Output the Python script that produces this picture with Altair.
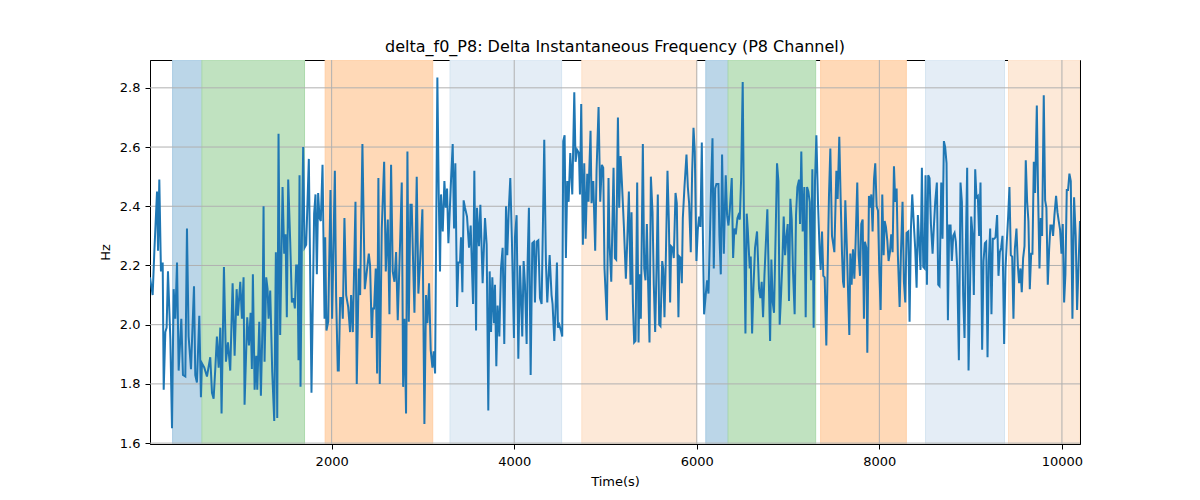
"""delta_f0_P8 trace with the shaded stage bands behind it."""
import pandas as pd
import altair as alt

time_s = [
    10, 39, 58, 87, 98, 112, 130, 149, 160, 178,
    192, 207, 233, 251, 269, 287, 306, 324, 353, 371,
    397, 415, 433, 459, 492, 506, 524, 550, 568, 579,
    605, 634, 670, 689, 707, 725, 743, 762, 780, 794,
    820, 842, 864, 889, 915, 937, 959, 973, 999, 1017,
    1035, 1046, 1075, 1094, 1112, 1126, 1137, 1156, 1174, 1185,
    1207, 1225, 1243, 1254, 1265,
    1283, 1298, 1309, 1327, 1349, 1371, 1389, 1404, 1418, 1436,
    1462, 1480, 1495, 1509, 1524, 1546, 1564, 1582, 1597, 1611,
    1626, 1637, 1648, 1659, 1674, 1688, 1703, 1721, 1750, 1765,
    1779, 1808, 1823, 1838, 1852, 1867, 1881, 1900, 1922, 1929,
    1943, 1962, 1987, 2005, 2035, 2049, 2067, 2078, 2093, 2111,
    2122, 2140, 2159, 2181, 2202, 2213, 2232, 2261, 2275, 2297,
    2312, 2337, 2363, 2385, 2407, 2421, 2440, 2451, 2465, 2483,
    2498, 2512,
    2527, 2549, 2575, 2593, 2615, 2633, 2651, 2669, 2688, 2706,
    2724, 2750, 2768, 2783, 2797, 2815, 2830, 2845, 2863, 2877,
    2892, 2907, 2932, 2950, 2969, 2994, 3016, 3034, 3049, 3067,
    3085, 3104, 3118, 3133, 3158, 3173, 3187, 3198, 3217, 3235,
    3250, 3264, 3279, 3308, 3326, 3341, 3355, 3374, 3388, 3406,
    3417, 3432, 3446, 3461, 3483, 3505, 3523, 3549, 3563, 3582,
    3592, 3614, 3629, 3654, 3680, 3698, 3716, 3731, 3746, 3760,
    3778,
    3789, 3804, 3818, 3837, 3855, 3873, 3891, 3910, 3924, 3939,
    3957, 3975, 3997, 4008, 4026, 4045, 4063, 4074, 4088, 4103,
    4118, 4136, 4147, 4161, 4180, 4198, 4216, 4227, 4245, 4264,
    4282, 4300, 4315, 4329, 4347, 4362, 4388, 4409, 4420, 4439,
    4453, 4468, 4479, 4493, 4512, 4526, 4537, 4552, 4566, 4581,
    4596, 4614, 4636, 4658, 4672, 4690, 4709, 4720, 4734, 4752,
    4767, 4782, 4800, 4814, 4822, 4836, 4847, 4866, 4887, 4902,
    4924, 4942, 4960, 4975, 4989, 5015, 5033,
    5044, 5063, 5088, 5103, 5117, 5136, 5150, 5165, 5179, 5201,
    5223, 5238, 5256, 5274, 5285, 5300, 5314, 5329, 5347, 5362,
    5373, 5387, 5409, 5424, 5438, 5453, 5467, 5482, 5497, 5515,
    5529, 5544, 5559, 5573, 5588, 5602, 5621, 5632, 5646, 5661,
    5679, 5694, 5708, 5719, 5734, 5748, 5767, 5781, 5799, 5810,
    5825, 5836, 5847, 5865, 5887, 5902, 5916, 5934, 5949, 5964,
    5978, 5996, 6011, 6026, 6040, 6055, 6066, 6080, 6099, 6113,
    6128, 6142, 6157, 6172, 6186, 6201, 6215, 6237, 6248, 6263,
    6277, 6296,
    6317, 6332, 6347, 6361, 6383, 6398, 6412, 6427, 6445, 6456,
    6471, 6485, 6503, 6518, 6533, 6547, 6558, 6580, 6591, 6606,
    6620, 6638, 6660, 6682, 6697, 6711, 6726, 6741, 6755, 6773,
    6788, 6803, 6817, 6832, 6846, 6865, 6879, 6894, 6908, 6923,
    6938, 6952, 6967, 6981, 6996, 7010, 7025, 7040, 7054, 7072,
    7087, 7102, 7120, 7131, 7145, 7160, 7178, 7193, 7208, 7222,
    7237, 7251, 7266, 7280, 7295, 7310, 7328, 7346, 7357, 7372,
    7386, 7401, 7419, 7434, 7448, 7463, 7481, 7496, 7507,
    7529, 7543, 7561, 7576, 7591, 7602, 7612, 7627, 7645, 7660,
    7671, 7682, 7696, 7711, 7726, 7740, 7758, 7773, 7788, 7802,
    7817, 7831, 7842, 7857, 7868, 7886, 7897, 7912, 7926, 7941,
    7955, 7970, 7985, 7999, 8014, 8032, 8047, 8058, 8072, 8087,
    8101, 8116, 8130, 8145, 8160, 8174, 8189, 8203, 8222, 8236,
    8254, 8269, 8284, 8298, 8317, 8331, 8346, 8360, 8375, 8393,
    8408, 8422, 8437, 8451, 8466, 8481, 8495, 8506, 8521, 8535,
    8550, 8565, 8583, 8597, 8612, 8630, 8645, 8659, 8678, 8692,
    8707, 8721, 8736, 8751, 8765, 8780, 8794, 8809,
    8824, 8838, 8853, 8871, 8889, 8904, 8918, 8933, 8948, 8962,
    8977, 8991, 9006, 9021, 9035, 9050, 9064, 9079, 9093, 9108,
    9126, 9141, 9156, 9170, 9185, 9199, 9214, 9228, 9243, 9258,
    9272, 9290, 9305, 9320, 9334, 9349, 9367, 9382, 9396, 9411,
    9425, 9440, 9455, 9469, 9484, 9502, 9517, 9531, 9546, 9560,
    9575, 9590, 9604, 9619, 9633, 9648, 9663, 9677, 9692, 9706,
    9725, 9739, 9754, 9768, 9783, 9801, 9816, 9830, 9845, 9860,
    9874, 9889, 9903, 9918, 9936, 9951, 9965, 9980, 9995, 10009,
    10024, 10038, 10053, 10067, 10082, 10097, 10115, 10133, 10151, 10166, 10198,
]

delta_f0 = [
    2.16, 2.10, 2.25, 2.45, 2.25, 2.49, 2.18, 2.21, 1.78, 1.975,
    1.99, 2.18, 1.95, 1.65, 2.12, 2.02, 2.21, 1.845, 2.02, 1.83,
    1.825, 2.325, 1.96, 1.85, 2.13, 1.83, 1.805, 2.03, 1.755, 1.87,
    1.855, 1.825, 1.89, 1.77, 1.75, 1.85, 1.96, 1.855, 1.99, 1.70,
    2.195, 1.875, 1.94, 1.845, 2.14, 1.895, 2.12, 2.03, 2.145, 2.02,
    2.16, 1.73, 2.025, 1.93, 2.04, 1.85, 2.17, 1.78, 1.895, 1.78,
    2.01, 1.76, 2.01, 2.40, 1.875,
    2.16, 2.12, 2.02, 2.115, 1.84, 1.675, 2.245, 1.685, 2.645, 1.965,
    2.465, 2.24, 2.305, 2.025, 2.49, 2.28, 2.075, 2.09, 2.055, 2.20,
    2.20, 1.88, 2.505, 1.79, 2.28, 2.60, 2.26, 2.27, 2.56, 2.17,
    1.77, 2.375, 2.44, 2.17, 2.445, 2.36, 2.35, 2.54, 2.02, 2.295,
    1.98, 2.01, 2.455, 2.02, 2.52, 2.095, 1.845, 1.845, 2.09, 2.09,
    2.02, 2.36, 2.10, 2.06, 1.975, 2.10, 1.975, 2.415, 1.80, 2.19,
    2.10, 2.61, 2.12, 2.18, 2.24, 2.20, 1.955, 2.055, 2.055, 2.19,
    1.835, 2.495,
    1.80, 2.325, 2.55, 2.18, 2.355, 2.035, 2.54, 2.18, 2.145, 2.245,
    2.015, 2.28, 2.48, 1.79, 2.02, 1.70, 2.585, 2.01, 2.405, 2.405,
    2.215, 2.04, 2.50, 2.105, 2.215, 2.39, 1.665, 2.10, 2.005, 2.14,
    1.915, 1.855, 1.91, 1.835, 2.835, 2.44, 2.18, 2.44, 2.315, 2.485,
    2.395, 2.46, 2.275, 2.49, 2.61, 2.325, 2.545, 2.06, 2.21, 2.21,
    2.295, 2.11, 2.42, 2.395, 2.365, 2.26, 2.335, 2.07, 2.52, 1.98,
    2.395, 2.265, 2.405, 2.14, 2.36, 2.27, 1.71, 2.18, 1.975, 2.16,
    2.005,
    2.135, 1.86, 2.065, 1.96, 2.19, 2.26, 1.935, 2.40, 2.235, 2.38,
    2.495, 2.28, 1.955, 2.295, 2.37, 1.885, 2.20, 2.10, 1.96, 2.215,
    2.135, 1.935, 2.215, 2.395, 1.83, 2.275, 2.28, 2.075, 2.28, 2.285,
    2.09, 2.07, 2.35, 2.625, 2.215, 2.075, 2.235, 2.10, 2.07, 1.945,
    2.055, 2.21, 1.99, 2.00, 1.98, 1.96, 2.62, 2.64, 2.225, 2.485,
    2.415, 2.58, 2.44, 2.785, 2.55, 2.59, 2.58, 2.44, 2.745, 2.27,
    2.545, 2.29, 2.51, 2.415, 2.52, 2.655, 2.41, 2.485, 2.25, 2.52,
    2.735, 2.415, 2.54, 2.53, 2.19, 2.015, 2.495,
    2.275, 2.145, 2.53, 2.225, 2.22, 2.70, 2.395, 2.57, 2.485, 2.335,
    2.155, 2.28, 2.45, 2.135, 2.38, 2.075, 1.94, 1.945, 2.48, 1.94,
    2.17, 2.02, 2.61, 2.19, 2.15, 2.34, 2.135, 1.94, 2.50, 2.38,
    2.135, 1.975, 2.19, 2.44, 2.00, 1.995, 2.215, 2.19, 2.025, 2.225,
    2.52, 2.35, 2.075, 2.265, 2.26, 2.225, 2.445, 2.41, 2.025, 2.23,
    2.225, 2.14, 2.36, 2.465, 2.575, 2.465, 2.41, 2.245, 2.515, 2.665,
    2.585, 2.215, 2.32, 2.365, 2.33, 2.615, 2.32, 2.035, 2.105, 2.15,
    2.105, 2.275, 2.47, 2.63, 2.19, 2.46, 2.475, 2.475, 2.30, 2.17,
    2.575, 2.24,
    2.505, 2.37, 2.335, 2.385, 2.495, 2.225, 2.325, 2.305, 2.36, 2.37,
    2.355, 2.485, 2.82, 2.325, 1.97, 2.375, 2.325, 2.19, 2.23, 1.97,
    2.12, 2.26, 2.315, 2.12, 2.09, 2.145, 2.025, 2.165, 2.265, 2.39,
    2.165, 1.945, 2.22, 2.075, 2.04, 2.325, 2.545, 2.485, 2.00, 2.10,
    2.215, 2.365, 2.235, 2.295, 2.34, 2.08, 2.425, 2.355, 2.18, 2.035,
    2.37, 2.465, 2.49, 2.34, 2.585, 2.315, 2.465, 2.025, 2.465, 2.45,
    2.415, 2.15, 2.525, 1.99, 2.485, 2.64, 2.41, 2.245, 2.185, 2.315,
    2.165, 2.16, 1.93, 2.20, 2.435, 2.595, 2.30, 2.27, 2.245,
    2.52, 2.425, 2.635, 2.425, 2.24, 2.145, 2.125, 2.42, 2.25, 2.08,
    1.965, 2.24, 2.135, 2.255, 2.155, 2.28, 2.48, 2.235, 2.165, 2.34,
    2.355, 2.02, 2.28, 2.26, 1.905, 2.435, 2.395, 2.44, 2.315, 2.49,
    2.545, 2.40, 2.385, 2.185, 2.05, 2.44, 2.235, 2.35, 2.33, 2.285,
    2.215, 2.245, 2.305, 2.245, 2.535, 2.415, 2.46, 2.235, 2.06, 2.235,
    2.415, 2.145, 2.075, 2.31, 2.315, 2.01, 2.325, 2.44, 2.355, 2.255,
    2.125, 2.37, 2.275, 2.185, 2.53, 2.195, 2.19, 2.505, 2.135, 2.505,
    2.495, 2.34, 2.24, 2.33, 2.415, 2.48, 2.135, 2.13, 2.48, 2.29,
    2.62, 2.60, 2.545, 2.015, 2.335, 2.335, 2.215, 2.30,
    2.31, 2.28, 2.19, 1.88, 2.48, 2.415, 2.10, 1.955, 2.28, 2.53,
    1.845, 2.085, 2.365, 2.305, 2.10, 2.525, 2.43, 2.435, 2.30, 2.48,
    1.915, 2.215, 2.275, 2.28, 1.89, 2.215, 2.325, 2.035, 2.29, 2.29,
    2.295, 2.37, 2.165, 2.245, 2.26, 2.30, 1.935, 2.19, 2.28, 2.365,
    2.465, 2.235, 2.23, 2.02, 2.255, 2.325, 2.20, 2.14, 2.19, 2.11,
    2.225, 2.265, 2.555, 2.415, 2.35, 2.12, 2.24, 2.24, 2.55, 2.445,
    2.74, 2.44, 2.19, 2.36, 2.30, 2.775, 2.42, 2.395, 2.135, 2.255,
    2.335, 2.335, 2.30, 2.37, 2.435, 2.38, 2.35, 2.32, 2.24, 2.34,
    2.075, 2.17, 2.455, 2.455, 2.51, 2.485, 2.02, 2.43, 2.30, 2.05, 2.35,
]

# shaded intervals
band_start = [258, 579, 1929, 3297, 4741, 6099, 6343, 7357, 8506, 9415]
band_end = [579, 1703, 3107, 4519, 5996, 6343, 7302, 8295, 9371, 10198]
band_kind = ["blue", "green", "orange", "pale blue", "pale orange",
             "blue", "green", "orange", "pale blue", "pale orange"]

kind_names = ["blue", "green", "orange", "pale blue", "pale orange"]
kind_colours = ["#bbd6e8", "#c0e2c0", "#ffd9b7", "#e4edf6", "#fde9d8"]
edge_colours = ["#a9cbe3", "#acd9ac", "#ffcfa5", "#d6e5f1", "#fde0c7"]

x_ticks = [2000, 4000, 6000, 8000, 10000]
y_ticks = [1.6, 1.8, 2.0, 2.2, 2.4, 2.6, 2.8]

trace = pd.DataFrame({"time": time_s, "value": delta_f0})
bands = pd.DataFrame({"start": band_start, "end": band_end, "kind": band_kind})

x_scale = alt.Scale(domain=[10, 10198], nice=False, zero=False)
y_scale = alt.Scale(domain=[1.597, 2.894], nice=False, zero=False)
# same axis objects in every layer so that the merged axes stay
x_axis = alt.Axis(values=x_ticks, format="d", title="Time(s)", labelPadding=6, titlePadding=7)
y_axis = alt.Axis(values=y_ticks, format=".1f", title="Hz", labelPadding=5, titlePadding=7)

band_layer = alt.Chart(bands).mark_rect(clip=True, strokeWidth=1).encode(
    x=alt.X("start:Q", scale=x_scale, axis=x_axis),
    x2="end:Q",
    color=alt.Color("kind:N", scale=alt.Scale(domain=kind_names, range=kind_colours), legend=None),
    stroke=alt.Stroke("kind:N", scale=alt.Scale(domain=kind_names, range=edge_colours), legend=None),
)

x_grid = alt.Chart(pd.DataFrame({"t": x_ticks})).mark_rule(color="#b0b0b0", strokeWidth=1).encode(
    x=alt.X("t:Q", scale=x_scale, axis=x_axis)
)
y_grid = alt.Chart(pd.DataFrame({"v": y_ticks})).mark_rule(color="#b0b0b0", strokeWidth=1).encode(
    y=alt.Y("v:Q", scale=y_scale, axis=y_axis)
)

line = alt.Chart(trace).mark_line(color="#1f77b4", strokeWidth=2, clip=True).encode(
    x=alt.X("time:Q", scale=x_scale, axis=x_axis),
    y=alt.Y("value:Q", scale=y_scale, axis=y_axis),
)

chart = alt.layer(band_layer, x_grid, y_grid, line).properties(
    width=930,
    height=384,
    autosize=alt.AutoSizeParams(type="none"),
    padding={"left": 142, "top": 52, "right": 112, "bottom": 48},
    title=alt.TitleParams(
        "delta_f0_P8: Delta Instantaneous Frequency (P8 Channel)",
        font="DejaVu Sans", fontSize=16, fontWeight="normal", color="black",
        frame="group", anchor="middle", offset=5,
    ),
).configure_view(
    stroke="black", strokeWidth=1
).configure_axis(
    labelFont="DejaVu Sans", titleFont="DejaVu Sans",
    labelFontSize=13, titleFontSize=13, titleFontWeight="normal",
    labelColor="black", titleColor="black",
    tickColor="black", domainColor="black", tickSize=5,
    grid=False,
)

chart.save("out.html", embed_options={"renderer": "svg", "actions": False})
